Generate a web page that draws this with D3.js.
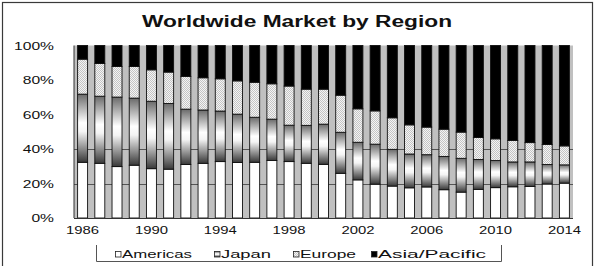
<!DOCTYPE html>
<html>
<head>
<meta charset="utf-8">
<script src="https://cdn.jsdelivr.net/npm/d3@7"></script>
<style>
body { margin: 0; background: #fff; }
text { font-family: "Liberation Sans", Arial, sans-serif; fill: #111; }
</style>
</head>
<body>
<div id="chart"></div>
<script>
var years = d3.range(1986, 2015);
var regions = ["Americas", "Japan", "Europe", "Asia/Pacific"];

// share of each region, %
var americas    = [32.3,31.7,29.8,30.6,28.6,28.3,31.0,31.7,32.7,32.2,32.3,33.3,32.7,31.7,31.1,25.9,22.1,19.6,18.5,17.5,18.0,16.4,15.0,16.6,17.6,18.1,18.3,19.7,20.2];
var japan       = [39.5,38.9,40.3,38.9,39.1,38.1,32.1,30.9,29.3,28.0,26.1,24.0,21.1,22.0,23.3,23.8,21.8,23.2,21.3,19.6,18.7,19.3,19.6,17.3,15.7,14.4,14.2,11.3,10.6];
var europe      = [20.3,19.0,17.7,18.3,18.2,18.2,19.0,18.7,18.7,19.3,20.3,20.5,22.7,21.0,20.3,21.5,19.4,19.3,18.3,16.9,16.0,15.8,15.2,12.8,12.6,12.4,11.2,11.6,11.0];
var asiaPacific = [7.9,10.4,12.2,12.2,14.1,15.4,17.9,18.7,19.3,20.5,21.3,22.2,23.5,25.3,25.3,28.8,36.7,37.9,41.9,46.0,47.3,48.5,50.2,53.3,54.1,55.1,56.3,57.4,58.2];

var xTickLabels = [1986, 1990, 1994, 1998, 2002, 2006, 2010, 2014];
var yTicks = [0, 20, 40, 60, 80, 100];
var gridTicks = [20, 40];

var width = 597, height = 266;
var plot = { left: 74, right: 573, top: 45.5, bottom: 218 };

var rows = years.map(function(yr, i) {
    return { year: yr, "Americas": americas[i], "Japan": japan[i],
             "Europe": europe[i], "Asia/Pacific": asiaPacific[i] };
});

var svg = d3.select("#chart").append("svg")
    .attr("width", width)
    .attr("height", height);

var defs = svg.append("defs");

var grad = defs.append("linearGradient")
    .attr("id", "japanGrad")
    .attr("x1", 0).attr("y1", 0).attr("x2", 0).attr("y2", 1);
grad.append("stop").attr("offset", "0%").attr("stop-color", "#6a6a6a");
grad.append("stop").attr("offset", "42%").attr("stop-color", "#ffffff");
grad.append("stop").attr("offset", "55%").attr("stop-color", "#f4f4f4");
grad.append("stop").attr("offset", "100%").attr("stop-color", "#383838");

var pat = defs.append("pattern")
    .attr("id", "europePat")
    .attr("patternUnits", "userSpaceOnUse")
    .attr("width", 2).attr("height", 2);
pat.append("rect").attr("width", 2).attr("height", 2).attr("fill", "#f4f4f4");
pat.append("rect").attr("width", 1).attr("height", 1).attr("fill", "#c4c4c4");
pat.append("rect").attr("x", 1).attr("y", 1).attr("width", 1).attr("height", 1).attr("fill", "#c4c4c4");

var fills = {
    "Americas": "#ffffff",
    "Japan": "url(#japanGrad)",
    "Europe": "url(#europePat)",
    "Asia/Pacific": "#000000"
};

// squeeze-free stretch: the source picture is widened horizontally
function stretch(sel, k) {
    sel.each(function() {
        var w = this.getComputedTextLength();
        this.setAttribute("textLength", w * k);
        this.setAttribute("lengthAdjust", "spacingAndGlyphs");
    });
}

// outer frame
svg.append("rect")
    .attr("x", 2.5).attr("y", 2.5)
    .attr("width", 590).attr("height", 290)
    .attr("fill", "none")
    .attr("stroke", "#3a3a3a")
    .attr("stroke-width", 1.2);

svg.append("text")
    .attr("x", 297)
    .attr("y", 27)
    .attr("text-anchor", "middle")
    .style("font-size", "16px")
    .style("font-weight", "bold")
    .text("Worldwide Market by Region")
    .call(stretch, 1.42);

var x = d3.scaleBand()
    .domain(years)
    .range([plot.left, plot.right])
    .paddingInner(0.42)
    .paddingOuter(0.21);

var y = d3.scaleLinear()
    .domain([0, 100])
    .range([plot.bottom, plot.top]);

svg.append("rect")
    .attr("x", plot.left)
    .attr("y", plot.top)
    .attr("width", plot.right - plot.left)
    .attr("height", plot.bottom - plot.top)
    .attr("fill", "#c0c0c0");

svg.append("g")
    .selectAll("line")
    .data(gridTicks)
    .enter().append("line")
        .attr("x1", plot.left).attr("x2", plot.right)
        .attr("y1", function(d) { return Math.round(y(d)) + 0.5; })
        .attr("y2", function(d) { return Math.round(y(d)) + 0.5; })
        .attr("stroke", "#555")
        .attr("stroke-width", 1);

var series = d3.stack().keys(regions)(rows);

svg.append("g")
    .selectAll("g")
    .data(series)
    .enter().append("g")
        .attr("fill", function(d) { return fills[d.key]; })
    .selectAll("rect")
    .data(function(d) { return d; })
    .enter().append("rect")
        .attr("x", function(d) { return x(d.data.year); })
        .attr("width", x.bandwidth())
        .attr("y", function(d) { return y(d[1]); })
        .attr("height", function(d) { return y(d[0]) - y(d[1]); })
        .attr("stroke", "#111")
        .attr("stroke-width", 0.9);

// axis lines
svg.append("line")
    .attr("x1", plot.left).attr("x2", plot.left)
    .attr("y1", plot.top).attr("y2", plot.bottom)
    .attr("stroke", "#333");
svg.append("line")
    .attr("x1", plot.left).attr("x2", plot.right)
    .attr("y1", plot.bottom + 0.5).attr("y2", plot.bottom + 0.5)
    .attr("stroke", "#333");

var yAxis = svg.append("g")
    .attr("transform", "translate(" + plot.left + ",0)")
    .call(d3.axisLeft(y)
        .tickValues(yTicks)
        .tickFormat(function(d) { return d + "%"; })
        .tickSize(0)
        .tickPadding(20));
yAxis.select(".domain").remove();
yAxis.selectAll("text")
    .style("font-size", "11px")
    .style("font-family", "\"Liberation Sans\", Arial, sans-serif")
    .attr("fill", "#111")
    .call(stretch, 1.42);

var xAxis = svg.append("g")
    .attr("transform", "translate(0," + plot.bottom + ")")
    .call(d3.axisBottom(x)
        .tickValues(xTickLabels)
        .tickSize(0)
        .tickPadding(8));
xAxis.select(".domain").remove();
xAxis.selectAll("text")
    .style("font-size", "11px")
    .style("font-family", "\"Liberation Sans\", Arial, sans-serif")
    .attr("fill", "#111")
    .call(stretch, 1.35);

// legend
var legend = svg.append("g");
legend.append("path")
    .attr("d", "M96.5,245 V261.5 H501.5 V245")
    .attr("fill", "none")
    .attr("stroke", "#555");

var legendX = [115, 214, 293, 371];
var legendW = [70, 50, 56, 108];

var item = legend.selectAll("g.item")
    .data(regions)
    .enter().append("g")
        .attr("class", "item")
        .attr("transform", function(d, i) { return "translate(" + legendX[i] + ",0)"; });

item.append("rect")
    .attr("x", 0.5).attr("y", 251.5)
    .attr("width", 5.5).attr("height", 5.5)
    .attr("fill", function(d) { return fills[d]; })
    .attr("stroke", "#222")
    .attr("stroke-width", 0.8);

item.append("text")
    .attr("x", 7)
    .attr("y", 258)
    .style("font-size", "11px")
    .attr("textLength", function(d, i) { return legendW[i]; })
    .attr("lengthAdjust", "spacingAndGlyphs")
    .text(function(d) { return d; });
</script>
</body>
</html>
